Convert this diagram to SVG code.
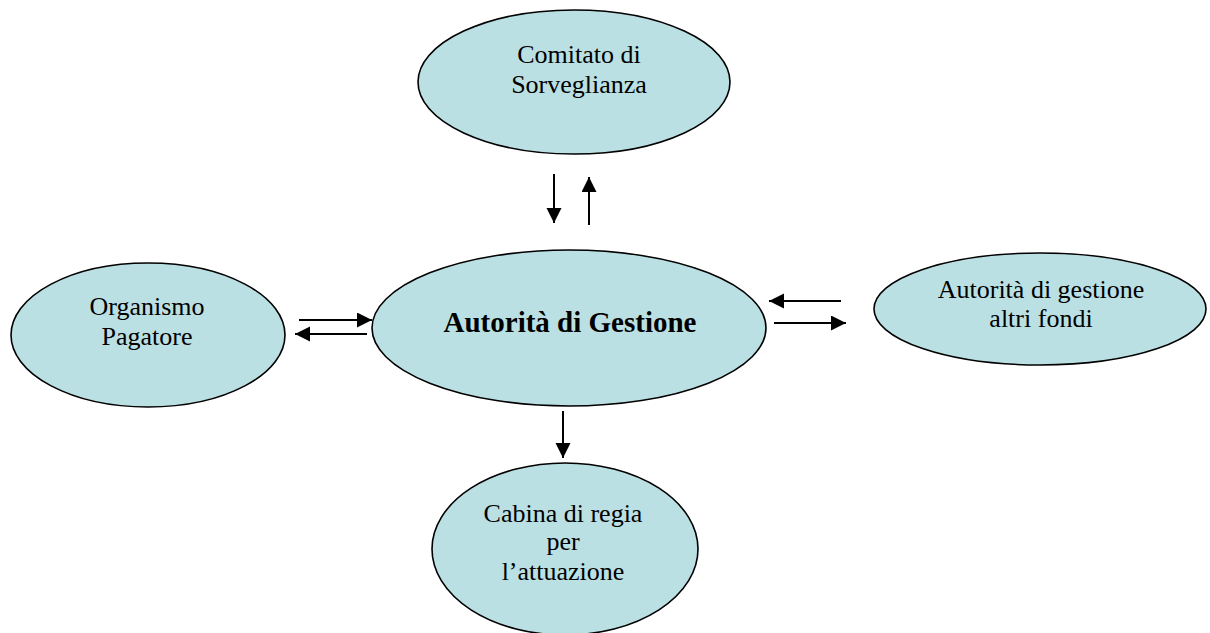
<svg xmlns="http://www.w3.org/2000/svg" width="1210" height="633" viewBox="0 0 1210 633">
<style>
.node{fill:#bbe0e3;stroke:#000;stroke-width:1.6}
.t{font-family:"Liberation Serif","Times New Roman",serif;font-size:26px;fill:#000;text-anchor:middle}
.b{font-weight:bold;font-size:29px}
.c line{stroke:#000;stroke-width:2;marker-end:url(#ah)}
</style>
<defs>
<marker id="ah" markerUnits="userSpaceOnUse" markerWidth="16" markerHeight="16" refX="15" refY="7.5" orient="auto">
<path d="M0,0 L15,7.5 L0,15 Z" fill="#000"/>
</marker>
</defs>
<rect width="1210" height="633" fill="#fff"/>
<g id="comitato">
<ellipse class="node" cx="574" cy="82" rx="156" ry="72"/>
<text class="t" x="579" y="63">Comitato di</text>
<text class="t" x="579" y="93">Sorveglianza</text>
</g>
<g id="autorita">
<ellipse class="node" cx="569" cy="328" rx="197" ry="78"/>
<text class="t b" x="570" y="332">Autorità di Gestione</text>
</g>
<g id="organismo">
<ellipse class="node" cx="148" cy="335" rx="137" ry="72"/>
<text class="t" x="147" y="315">Organismo</text>
<text class="t" x="147" y="345">Pagatore</text>
</g>
<g id="altri">
<ellipse class="node" cx="1040" cy="309" rx="166" ry="56"/>
<text class="t" x="1041" y="298">Autorità di gestione</text>
<text class="t" x="1041" y="327">altri fondi</text>
</g>
<g id="cabina">
<ellipse class="node" cx="565" cy="549" rx="133" ry="86"/>
<text class="t" x="563" y="522">Cabina di regia</text>
<text class="t" x="563" y="550">per</text>
<text class="t" x="563" y="580">l’attuazione</text>
</g>
<g id="connectors" class="c">
<line x1="554" y1="174" x2="554" y2="223"/>
<line x1="589" y1="225" x2="589" y2="177"/>
<line x1="299" y1="320" x2="372" y2="320"/>
<line x1="367" y1="334" x2="295" y2="334"/>
<line x1="841" y1="301" x2="769" y2="301"/>
<line x1="774" y1="323" x2="846" y2="323"/>
<line x1="563" y1="411" x2="563" y2="458"/>
</g>
</svg>
